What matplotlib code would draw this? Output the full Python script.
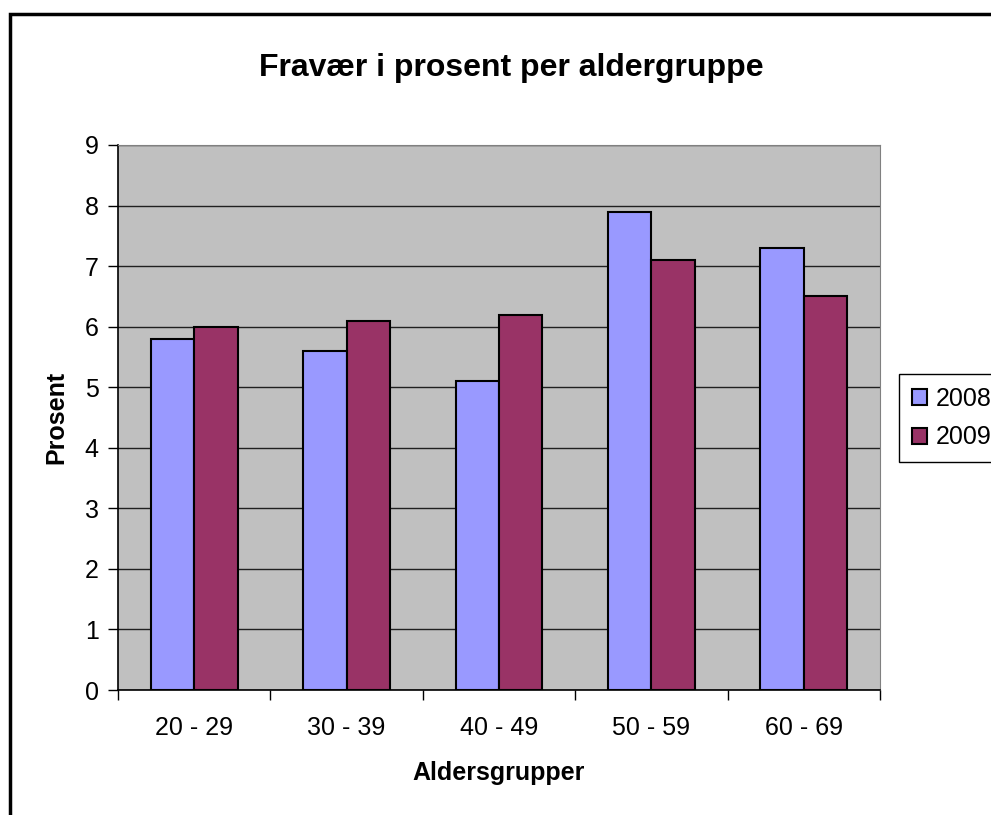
import matplotlib.pyplot as plt
import matplotlib.ticker as ticker
from matplotlib.patches import Rectangle
import numpy as np

plt.rcParams['font.family'] = ['Liberation Sans', 'DejaVu Sans']

groups = ['20 - 29', '30 - 39', '40 - 49', '50 - 59', '60 - 69']
vals_2008 = [5.8, 5.6, 5.1, 7.9, 7.3]
vals_2009 = [6.0, 6.1, 6.2, 7.1, 6.5]

W, H = 991, 815
fig = plt.figure(figsize=(W / 100, H / 100), dpi=100)
ax = fig.add_axes([118 / W, 1 - 690 / H, (880 - 118) / W, (690 - 145) / H])
ax.set_facecolor('#C0C0C0')

x = np.arange(len(groups))
bw = 0.285
ax.bar(x - bw / 2, vals_2008, bw, color='#9999FF', edgecolor='black', linewidth=1.5,
       label='2008', zorder=3)
ax.bar(x + bw / 2, vals_2009, bw, color='#993366', edgecolor='black', linewidth=1.5,
       label='2009', zorder=3)

ax.set_xlim(-0.5, len(groups) - 0.5)
ax.set_ylim(0, 9)
ax.yaxis.set_major_locator(ticker.MultipleLocator(1))
ax.grid(axis='y', color='#202020', linewidth=1, zorder=1)

# category boundary ticks, labels in the middle
ax.set_xticks(np.arange(-0.5, len(groups)))
ax.set_xticklabels([])
ax.set_xticks(x, minor=True)
ax.set_xticklabels(groups, minor=True)
ax.tick_params(axis='x', which='major', length=7, width=1, direction='out')
ax.tick_params(axis='x', which='minor', length=0, pad=19, labelsize=18)
ax.tick_params(axis='y', length=7, width=1, direction='out', pad=7, labelsize=18)

for s in ['top', 'right']:
    ax.spines[s].set_color('#808080')
for s in ['left', 'bottom']:
    ax.spines[s].set_color('black')
    ax.spines[s].set_linewidth(1.2)

ax.set_xlabel('Aldersgrupper', fontsize=18, fontweight='bold', labelpad=14.5)
ax.set_ylabel('Prosent', fontsize=18, fontweight='bold', labelpad=12)
fig.text(511 / W, 1 - 76 / H, 'Fravær i prosent per aldergruppe',
         ha='center', va='baseline', fontsize=23, fontweight='bold')

leg = fig.legend(loc='upper left', bbox_to_anchor=(899 / W, 1 - 374 / H), fontsize=18,
                 frameon=True, fancybox=False, edgecolor='black', framealpha=1,
                 handlelength=0.6, handleheight=0.6, handletextpad=0.36,
                 borderpad=0.5, labelspacing=0.6, borderaxespad=0)
leg.get_frame().set_linewidth(1)

# outer chart border (cropped on right and bottom)
fig.patches.append(Rectangle((10 / W, -0.1), 1.2, 1 - 14 / H + 0.1,
                             transform=fig.transFigure, fill=False,
                             edgecolor='black', linewidth=2.5))

plt.savefig('out.png', dpi=100)
